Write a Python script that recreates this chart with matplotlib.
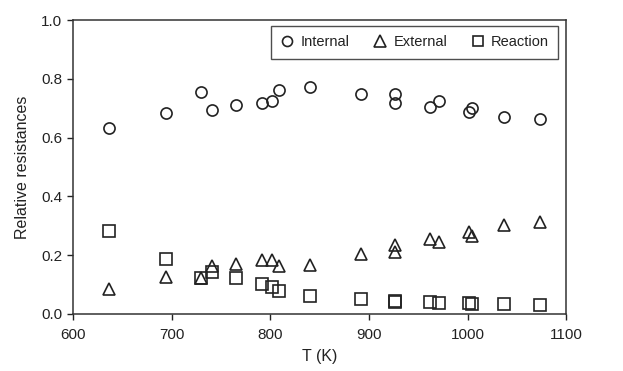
import matplotlib
matplotlib.use("Agg")
import matplotlib.pyplot as plt

plt.rcParams['font.family'] = ['Liberation Sans', 'DejaVu Sans']

# temperatures (K) and the share of each resistance
temps = [637, 694, 730, 741, 765, 792, 802, 809, 840, 892,
         926, 926, 962, 971, 1001, 1004, 1037, 1073]
internal = [0.634, 0.685, 0.756, 0.694, 0.710, 0.717, 0.725, 0.762, 0.773, 0.748,
            0.749, 0.717, 0.705, 0.723, 0.686, 0.702, 0.671, 0.663]
external = [0.086, 0.125, 0.121, 0.163, 0.171, 0.184, 0.185, 0.163, 0.168, 0.203,
            0.211, 0.234, 0.255, 0.244, 0.280, 0.266, 0.304, 0.311]
reaction = [0.282, 0.187, 0.121, 0.143, 0.121, 0.100, 0.091, 0.077, 0.061, 0.049,
            0.040, 0.045, 0.041, 0.036, 0.038, 0.034, 0.034, 0.030]

xticks = [600, 700, 800, 900, 1000, 1100]
yticks = [0.0, 0.2, 0.4, 0.6, 0.8, 1.0]

ink = '#222222'

fig = plt.figure(figsize=(6.23, 3.71), dpi=100)
ax = fig.add_axes([0.117, 0.154, 0.792, 0.792])

style = dict(linestyle='none', markerfacecolor='none', markeredgecolor=ink,
             markeredgewidth=1.2)
ax.plot(temps, internal, marker='o', markersize=8, label='Internal', **style)
ax.plot(temps, external, marker='^', markersize=9, label='External', **style)
ax.plot(temps, reaction, marker='s', markersize=8, label='Reaction', **style)

ax.set_xlim(600, 1100)
ax.set_ylim(0, 1.0)
ax.set_xticks(xticks)
ax.set_yticks(yticks)
ax.set_yticklabels([f'{v:.1f}' for v in yticks])
ax.tick_params(direction='out', length=4, width=1, colors=ink, labelsize=11)
ax.tick_params(axis='x', pad=6)
for s in ax.spines.values():
    s.set_color('#333333')
    s.set_linewidth(1.1)

ax.set_xlabel('T (K)', fontsize=11.5, color=ink, labelpad=5)
ax.set_ylabel('Relative resistances', fontsize=11.5, color=ink, labelpad=8)

leg = ax.legend(loc='upper right', ncol=3, fontsize=10.5, frameon=True,
                fancybox=False, edgecolor=ink, handletextpad=0.4,
                columnspacing=1.6, borderpad=0.65, handlelength=1.0,
                borderaxespad=0.2, bbox_to_anchor=(0.99, 0.99),
                markerscale=0.9)
leg.get_frame().set_linewidth(1.0)
for t in leg.get_texts():
    t.set_color(ink)

fig.savefig('out.png', dpi=100)
